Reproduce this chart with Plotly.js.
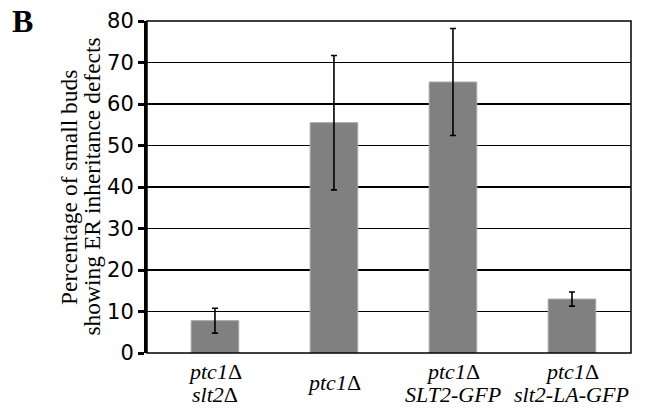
<!DOCTYPE html>
<html>
<head>
<meta charset="utf-8">
<script src="https://cdn.plot.ly/plotly-3.0.1.min.js"></script>
<style>html,body{margin:0;padding:0;background:#fff;}#chart{width:654px;height:411px;}</style>
</head>
<body>
<div id="chart"></div>
<script>
const labelLine1 = ["ptc1Δ", "ptc1Δ", "ptc1Δ", "ptc1Δ"];
const labelLine2 = ["slt2Δ", "", "SLT2-GFP", "slt2-LA-GFP"];
const values = [7.8, 55.5, 65.3, 13.0];
const errors = [3.0, 16.2, 12.9, 1.7];
const yTicks = [0, 10, 20, 30, 40, 50, 60, 70, 80];
const yTitleLines = ["Percentage of small buds", "showing ER inheritance defects"];
const panelLabel = "B";

const xIdx = labelLine1.map((c, i) => i);
const ital = s => s.split('Δ').map(p => p ? '<i>' + p + '</i>' : '').join('Δ');

const trace = {
  type: 'bar',
  x: xIdx,
  y: values,
  width: 0.40,
  marker: {color: '#808080', line: {color: '#a8a8a8', width: 1}},
  error_y: {type: 'data', array: errors, visible: true, color: '#000', thickness: 1.6, width: 3},
  hoverinfo: 'none'
};

const catFont = {family: 'Liberation Serif', size: 22, color: '#000'};
const annotations = [];
xIdx.forEach(i => {
  if (labelLine2[i]) {
    annotations.push({x: i, xref: 'x', y: -0.057, yref: 'paper', xanchor: 'center', yanchor: 'middle',
      text: ital(labelLine1[i]), showarrow: false, font: catFont});
    annotations.push({x: i, xref: 'x', y: -0.126, yref: 'paper', xanchor: 'center', yanchor: 'middle',
      text: ital(labelLine2[i]), showarrow: false, font: catFont});
  } else {
    annotations.push({x: i, xref: 'x', y: -0.090, yref: 'paper', xanchor: 'center', yanchor: 'middle',
      text: ital(labelLine1[i]), showarrow: false, font: catFont});
  }
});
const titleFont = {family: 'Liberation Serif', size: 23.5, color: '#000'};
const titleX = [-0.161, -0.1146];
yTitleLines.forEach((t, k) => {
  annotations.push({x: titleX[k], xref: 'paper', y: 0.5, yref: 'paper', xanchor: 'center', yanchor: 'middle',
    textangle: -90, text: t, showarrow: false, font: titleFont});
});
annotations.push({
  x: -0.258, xref: 'paper', y: 1.0, yref: 'paper', xanchor: 'center', yanchor: 'middle',
  text: '<b>' + panelLabel + '</b>', showarrow: false,
  font: {family: 'Liberation Serif', size: 32, color: '#000'}
});

const layout = {
  width: 654, height: 411,
  margin: {l: 147, r: 23, t: 21, b: 58},
  paper_bgcolor: '#fff', plot_bgcolor: '#fff',
  showlegend: false,
  xaxis: {
    type: 'linear', range: [-0.571, 3.496], showticklabels: false, showgrid: false,
    zeroline: false, showline: false, ticks: '', fixedrange: true
  },
  yaxis: {
    range: [0, 80], tickvals: yTicks, ticktext: yTicks.map(String),
    showgrid: true, gridcolor: '#000', gridwidth: 1.2, zeroline: false,
    showline: true, linecolor: '#000', linewidth: 3,
    ticks: 'outside', ticklen: 6, tickwidth: 3, tickcolor: '#000',
    tickfont: {family: 'DejaVu Sans', size: 21, color: '#000'},
    fixedrange: true
  },
  shapes: [{type: 'rect', xref: 'paper', yref: 'paper', x0: 0, x1: 1, y0: 0, y1: 1,
    line: {color: '#000', width: 1.5}, layer: 'above'}],
  annotations: annotations
};

Plotly.newPlot('chart', [trace], layout, {staticPlot: true, displayModeBar: false});
</script>
</body>
</html>
